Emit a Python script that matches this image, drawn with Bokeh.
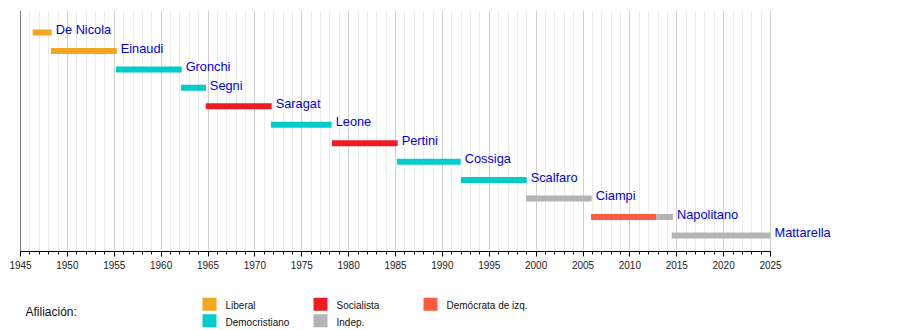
from bokeh.plotting import figure
from bokeh.models import Range1d, FixedTicker, Span
from bokeh.layouts import column
from bokeh.core.properties import value
from bokeh.embed import file_html
from bokeh.resources import INLINE

# ---------------- data ----------------
presidents = ["De Nicola", "Einaudi", "Gronchi", "Segni", "Saragat", "Leone",
              "Pertini", "Cossiga", "Scalfaro", "Ciampi", "Napolitano", "Mattarella"]

seg_president = ["De Nicola", "Einaudi", "Gronchi", "Segni", "Saragat", "Leone",
                  "Pertini", "Cossiga", "Scalfaro", "Ciampi", "Napolitano", "Napolitano",
                  "Mattarella"]
seg_start = [1946.30, 1948.25, 1955.19, 1962.12, 1964.76, 1971.72, 1978.22,
             1985.16, 1991.98, 1998.93, 2005.86, 2012.80, 2014.47]
seg_end = [1948.33, 1955.26, 1962.19, 1964.77, 1971.79, 1978.19, 1985.23,
           1991.95, 1998.99, 2005.93, 2012.80, 2014.60, 2025.00]
seg_party = ["Liberal", "Liberal", "Democristiano", "Democristiano", "Socialista",
             "Democristiano", "Socialista", "Democristiano", "Democristiano", "Indep.",
             "Demócrata de izq.", "Indep.", "Indep."]

parties = ["Liberal", "Democristiano", "Socialista", "Indep.", "Demócrata de izq."]
party_colors = ["#F4A623", "#00CCCC", "#ED1C24", "#B4B4B4", "#FF5A40"]

year_start, year_end = 1945, 2025
major_ticks = list(range(1945, 2026, 5))
minor_ticks = list(range(1945, 2026, 1))

legend_title = "Afiliación:"

# ---------------- layout constants ----------------
W = 900
MAIN_H = 280
LEG_H = 50
LEFT, RIGHT, TOP, BOTTOM = 20, 10, 10, 29
PX_PER_YEAR = 750 / (year_end - year_start)
ROW_PX = 18.45
FIRST_ROW_PX = 22
BAR_PX = 6
FONT = "Liberation Sans"

frame_w = W - LEFT - RIGHT
frame_h = MAIN_H - TOP - BOTTOM

color_of = dict(zip(parties, party_colors))
row_of = {n: i for i, n in enumerate(presidents)}

xr = Range1d(year_start, year_start + frame_w / PX_PER_YEAR)

p = figure(width=W, height=MAIN_H, output_backend="svg", toolbar_location=None,
           x_range=xr,
           y_range=Range1d((frame_h - FIRST_ROW_PX) / ROW_PX, -FIRST_ROW_PX / ROW_PX),
           y_axis_location=None, min_border_left=LEFT, min_border_right=RIGHT,
           min_border_top=TOP, min_border_bottom=BOTTOM)
p.outline_line_color = None
p.background_fill_color = "white"
p.border_fill_color = "white"

ticker = FixedTicker(ticks=major_ticks, minor_ticks=minor_ticks)
p.xaxis.ticker = ticker
p.xaxis.bounds = (year_start, year_end)
p.xaxis.axis_line_color = "black"
p.xaxis.major_tick_line_color = "black"
p.xaxis.minor_tick_line_color = "black"
p.xaxis.major_tick_out = 5
p.xaxis.major_tick_in = 0
p.xaxis.minor_tick_out = 3
p.xaxis.minor_tick_in = 0
p.xaxis.major_label_standoff = 4
p.xaxis.major_label_text_font = FONT
p.xaxis.major_label_text_font_size = "10px"
p.xaxis.major_label_text_color = "#222222"

p.xgrid.ticker = ticker
p.xgrid.grid_line_color = "#CFCFCF"
p.xgrid.minor_grid_line_color = "#EBEBEB"
p.xgrid.bounds = (year_start, year_end)
for g in p.ygrid:
    g.visible = False

p.add_layout(Span(location=year_start, dimension="height", line_color="black", line_width=1))

# bars
p.hbar(y=[row_of[n] for n in seg_president], left=seg_start, right=seg_end,
       height=BAR_PX / ROW_PX, fill_color=[color_of[c] for c in seg_party],
       line_color=None)

# labels
label_x = [max(e for n2, e in zip(seg_president, seg_end) if n2 == n) for n in presidents]
p.text(x=label_x, y=list(range(len(presidents))), text=presidents,
       x_offset=4, y_offset=-2.8, text_baseline="alphabetic", text_align="left",
       text_font=value(FONT), text_font_size="12.8px", text_color="#0000DD")

# ---------------- legend (frame aligned with the chart above) ----------------
lg = figure(width=W, height=LEG_H, output_backend="svg", toolbar_location=None,
            x_range=xr, y_range=Range1d(LEG_H, 0),
            x_axis_location=None, y_axis_location=None,
            min_border_left=LEFT, min_border_right=RIGHT,
            min_border_top=0, min_border_bottom=0)
lg.outline_line_color = None
lg.grid.visible = False


def px_to_x(px):
    return year_start + (px - LEFT) / PX_PER_YEAR


COL_PX = [202, 313, 423]
ROW_PX_LEG = [23.7, 40.3]
SW_W, SW_H = 14, 13
TXT_DX = 23
TITLE_PX = (25, 31.5)

lx, ly, lcol = [], [], []
for k, party in enumerate(parties):
    c, r = divmod(k, 2)
    lx.append(COL_PX[c])
    ly.append(ROW_PX_LEG[r])
    lcol.append(color_of[party])

lg.rect(x=[px_to_x(v + SW_W / 2) for v in lx], y=ly, width=SW_W / PX_PER_YEAR,
        height=SW_H, fill_color=lcol, line_color=None)
lg.text(x=[px_to_x(v + TXT_DX) for v in lx], y=[v + 1.3 for v in ly], text=parties,
        text_baseline="middle", text_font=value(FONT), text_font_size="10px",
        text_color="#111111")
lg.text(x=[px_to_x(TITLE_PX[0])], y=[TITLE_PX[1]], text=[legend_title],
        text_baseline="middle", text_font=value(FONT), text_font_size="12px",
        text_color="#111111")

layout = column(p, lg, spacing=0)
open("out.html", "w").write(file_html(layout, INLINE))
